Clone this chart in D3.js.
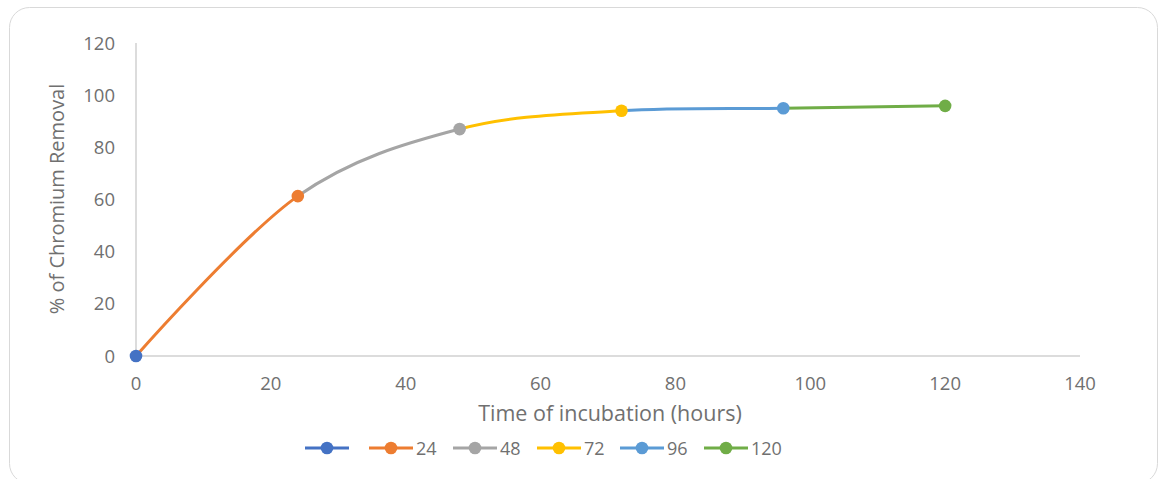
<!DOCTYPE html>
<html>
<head>
<meta charset="utf-8">
<script src="https://cdn.jsdelivr.net/npm/d3@7"></script>
<style>
  html, body { margin: 0; padding: 0; background: #fff; }
  svg { display: block; }
  text { font-family: "Open Sans", "Noto Sans", sans-serif; fill: #707070; }
</style>
</head>
<body>
<svg id="chart" width="1161" height="479"></svg>
<script>
// Incubation time (hours) and chromium removal (%)
const hours = [0, 24, 48, 72, 96, 120];
const removal = [0, 61.3, 87, 94, 95, 95.9];
const seriesNames = ["", "24", "48", "72", "96", "120"];
const seriesColors = ["#4472C4", "#ED7D31", "#A5A5A5", "#FFC000", "#5B9BD5", "#70AD47"];
const xTicks = [0, 20, 40, 60, 80, 100, 120, 140];
const yTicks = [0, 20, 40, 60, 80, 100, 120];

const svg = d3.select("#chart");
const W = 1161, H = 479;

// outer chart frame
svg.append("rect")
  .attr("x", 9.5).attr("y", 7.5)
  .attr("width", 1148).attr("height", 476)
  .attr("rx", 20).attr("ry", 20)
  .attr("fill", "#fff").attr("stroke", "#d9d9d9").attr("stroke-width", 1);

const x = d3.scaleLinear().domain([0, 140]).range([136, 1080]);
const y = d3.scaleLinear().domain([0, 120]).range([356, 43]);

// axes
const axisColor = "#d0d0d0";
svg.append("line")
  .attr("x1", x(0)).attr("x2", x(140)).attr("y1", y(0)).attr("y2", y(0))
  .attr("stroke", axisColor).attr("stroke-width", 1.5);
svg.append("line")
  .attr("x1", x(0)).attr("x2", x(0)).attr("y1", y(0)).attr("y2", y(120))
  .attr("stroke", axisColor).attr("stroke-width", 1.5);

svg.append("g").selectAll("text").data(xTicks).join("text")
  .attr("x", d => x(d)).attr("y", y(0) + 34)
  .attr("text-anchor", "middle")
  .style("font-size", "18.5px")
  .text(d => d);

svg.append("g").selectAll("text").data(yTicks).join("text")
  .attr("x", x(0) - 21).attr("y", d => y(d) + 6.5)
  .attr("text-anchor", "end")
  .style("font-size", "18.5px")
  .text(d => d);

// axis titles
svg.append("text")
  .attr("x", 610).attr("y", 421)
  .attr("text-anchor", "middle")
  .style("font-size", "21.5px")
  .text("Time of incubation (hours)");

svg.append("text")
  .attr("transform", "translate(64,199) rotate(-90)")
  .attr("text-anchor", "middle")
  .style("font-size", "20px")
  .text("% of Chromium Removal");

// smoothed curve through all points, each interval coloured by its series
const pts = hours.map((h, i) => [h, removal[i]]);
const line = d3.line()
  .x(d => x(d[0])).y(d => y(d[1]))
  .curve(d3.curveCardinal.tension(0));
const pathD = line(pts);

const defs = svg.append("defs");
for (let i = 1; i < hours.length; i++) {
  defs.append("clipPath").attr("id", "seg" + i)
    .append("rect")
    .attr("x", x(hours[i - 1])).attr("y", 0)
    .attr("width", x(hours[i]) - x(hours[i - 1])).attr("height", H);
  svg.append("path")
    .attr("d", pathD)
    .attr("clip-path", "url(#seg" + i + ")")
    .attr("fill", "none")
    .attr("stroke", seriesColors[i])
    .attr("stroke-width", 3)
    .attr("stroke-linecap", "round");
}

// markers
svg.append("g").selectAll("circle").data(pts).join("circle")
  .attr("cx", d => x(d[0])).attr("cy", d => y(d[1]))
  .attr("r", 6.3)
  .attr("fill", (d, i) => seriesColors[i]);

// legend
const legendStarts = [305, 369, 453, 537, 620, 704];
const ly = 448;
const lg = svg.append("g");
seriesNames.forEach((name, i) => {
  const x0 = legendStarts[i];
  lg.append("line")
    .attr("x1", x0).attr("x2", x0 + 44).attr("y1", ly).attr("y2", ly)
    .attr("stroke", seriesColors[i]).attr("stroke-width", 3);
  lg.append("circle")
    .attr("cx", x0 + 22).attr("cy", ly).attr("r", 6.3)
    .attr("fill", seriesColors[i]);
  if (name) {
    lg.append("text")
      .attr("x", x0 + 47).attr("y", ly + 6.5)
      .style("font-size", "18px")
      .text(name);
  }
});
</script>
</body>
</html>
